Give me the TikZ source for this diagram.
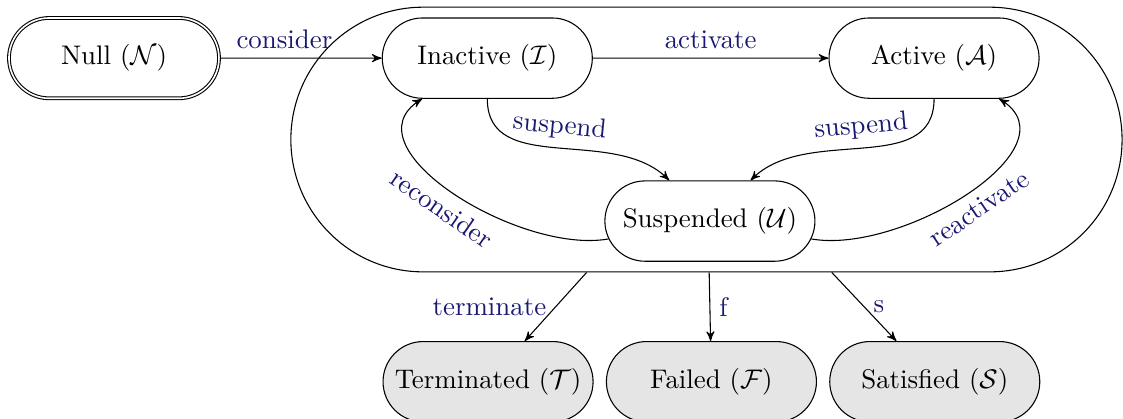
\documentclass[tikz,border=0pt]{standalone}
\usepackage{amsmath, amssymb}
\usepackage{xcolor}
\usepackage{tikz}
\usetikzlibrary{shapes, arrows, positioning, calc}

\definecolor{lblue}{RGB}{25,25,115}

\tikzset{
  goalstate/.style={rounded rectangle, draw, minimum width=2.98cm, minimum height=1.05cm},
  endstate/.style={goalstate, fill=gray!20},
  trans/.style={->, >=stealth'},
  lbl/.style={text=lblue}
}

\begin{document}
\begin{tikzpicture}
    \useasboundingbox (0,0) rectangle (14.68,-5.477);

    % outer box round the live states
    \node[rounded rectangle, draw, minimum width=11.1cm, minimum height=3.46cm] (live) at (9.235,-1.824) {};

    % states
    \node[goalstate, double] (null) at (1.49,-0.76) {Null (\(\mathcal{N}\))};
    \node[goalstate] (inactive) at (6.37,-0.76) {Inactive (\(\mathcal{I}\))};
    \node[goalstate] (active) at (12.21,-0.76) {Active (\(\mathcal{A}\))};
    \node[goalstate] (suspended) at (9.28,-2.89) {Suspended (\(\mathcal{U}\))};

    \node[endstate] (terminated) at (6.38,-4.99) {Terminated (\(\mathcal{T}\))};
    \node[endstate, right=0.16cm of terminated] (failed) {Failed (\(\mathcal{F}\))};
    \node[endstate, right=0.16cm of failed] (satisfied) {Satisfied (\(\mathcal{S}\))};

    % transitions
    \draw[trans] (null) -- node[lbl, above, pos=0.4] {consider} (inactive);
    \draw[trans] (inactive) -- node[lbl, above] {activate} (active);

    \draw[trans] (inactive) to[out=-90, in=135] node[lbl, sloped, above] {suspend} (suspended);
    \draw[trans] (active) to[out=-90, in=45] node[lbl, sloped, above] {suspend} (suspended);

    \draw[trans] (suspended) to[out=190, in=212] node[lbl, sloped, below] {reconsider} (inactive);
    \draw[trans] (suspended) to[out=-10, in=-32] node[lbl, sloped, below] {reactivate} (active);

    \draw[trans] (live) -- node[lbl, left] {terminate} (terminated);
    \draw[trans] (live) -- node[lbl, right] {f} (failed);
    \draw[trans] (live) -- node[lbl, right] {s} (satisfied);
\end{tikzpicture}
\end{document}
